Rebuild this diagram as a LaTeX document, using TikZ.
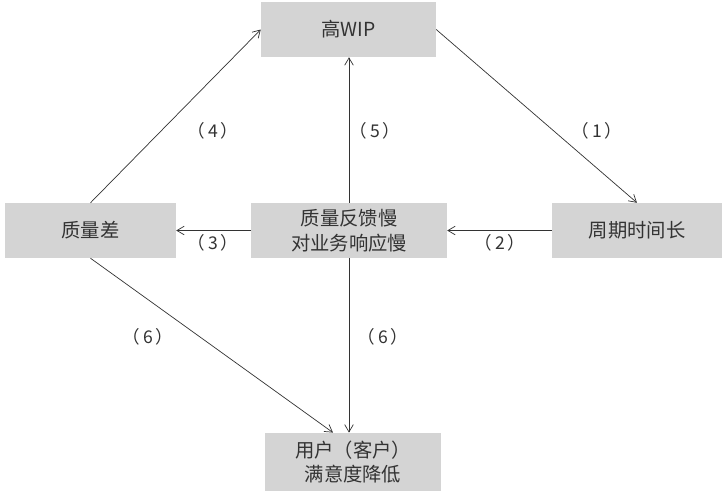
\documentclass[tikz,border=0pt]{standalone}
\usepackage{fontspec}
\setmainfont{Noto Sans CJK SC}
\usepackage{xcolor}
\usetikzlibrary{arrows.meta,positioning,calc}
\definecolor{boxgray}{HTML}{D4D4D4}
\definecolor{inkgray}{HTML}{333333}

\begin{document}
\begin{tikzpicture}[x=0.03cm, y=-0.03cm,
  box/.style={fill=boxgray, align=center, minimum height=1.65cm, inner sep=2pt,
    text=inkgray, font=\fontsize{16.5}{21}\selectfont},
  lbl/.style={text=inkgray, font=\fontsize{15}{17}\selectfont},
  arr/.style={-{Straight Barb[length=2.2mm, width=2.6mm]}, draw=inkgray, line width=0.6pt}
]
\useasboundingbox (0,0) rectangle (725,490);
\node[box, minimum width=5.25cm] (wip)  at (348.5,29.5) {高WIP};
\node[box, minimum width=5.13cm] (qual) at (90.5,230.5) {质量差};
\node[box, minimum width=5.88cm] (slow) at (349,230.5) {质量反馈慢\\对业务响应慢};
\node[box, minimum width=5.10cm] (cyc)  at (637,230.5) {周期时间长};
\node[box, minimum width=5.28cm, minimum height=1.75cm] (user) at (353,462) {用户（客户）\\满意度降低};
\draw[arr] (wip.east) -- (cyc.north);
\draw[arr] (cyc.west) -- (slow.east);
\draw[arr] (slow.west) -- (qual.east);
\draw[arr] (qual.north) -- (wip.west);
\draw[arr] (slow.north) -- (slow.north |- wip.south);
\draw[arr] (qual.south) -- ([xshift=-0.6cm]user.north);
\draw[arr] (slow.south) -- (slow.south |- user.north);
\node[lbl] (l1) at (597,131) {（\,1\,）};
\node[lbl] (l2) at (500,243) {（\,2\,）};
\node[lbl] (l3) at (213,243) {（\,3\,）};
\node[lbl] (l4) at (213,131) {（\,4\,）};
\node[lbl] (l5) at (375,131) {（\,5\,）};
\node[lbl] (l6) at (148,337) {（\,6\,）};
\node[lbl] (l7) at (383,337) {（\,6\,）};
\end{tikzpicture}
\end{document}
